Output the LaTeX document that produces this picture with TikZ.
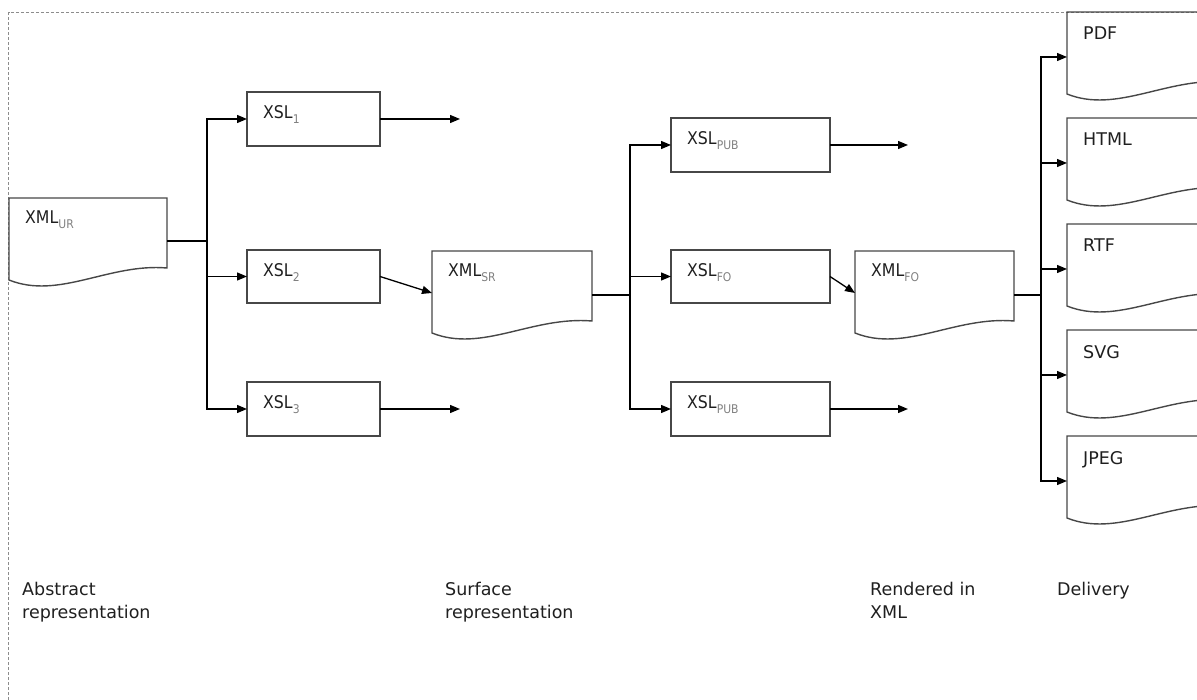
\documentclass[tikz,border=0pt]{standalone}
\usepackage{fontspec}
\setmainfont{DejaVu Sans}
\newfontfamily\narrowfont[FakeStretch=0.9]{DejaVu Sans}
\usetikzlibrary{arrows.meta,calc}
\newcommand\subtx[1]{\raisebox{-5pt}{\fontsize{12}{12}\selectfont\color{black!50}#1}}
\newcommand\docpath[1]{\draw[docline] (#1.south west) -- (#1.north west) -- (#1.north east) -- ($(#1.south east)+(0,-12)$) .. controls ($(#1.south west)+(100,-17)$) and ($(#1.south west)+(50,20)$) .. (#1.south west) -- cycle;}
\begin{document}
\begin{tikzpicture}[x=1pt,y=-1pt,
  every node/.style={text=black!88},
  docnode/.style={minimum width=159, minimum height=82, anchor=north west, inner sep=0, outer sep=0},
  docline/.style={draw=black!72, line width=1.4},
  doctext/.style={anchor=north west, inner sep=0, xshift=16, yshift=-13, font=\narrowfont\fontsize{17.5}{20}\selectfont},
  deltext/.style={anchor=north west, inner sep=0, xshift=16, yshift=-15, font=\fontsize{17.5}{20}\selectfont},
  xslbox/.style={draw=black!72, line width=1.5, anchor=north west, inner sep=0, outer sep=0, minimum height=54},
  conn/.style={draw=black, line width=1.3},
  arr/.style={conn, -{Triangle[length=10pt,width=8pt]}},
  caption/.style={anchor=north west, align=left, inner sep=0, font=\fontsize{17.5}{23}\selectfont}
]
\useasboundingbox (0,0) rectangle (1197,700);
\clip (0,0) rectangle (1197,700);
% frame
\draw[black!45, line width=1, dash pattern=on 3pt off 2pt] (8.5,700) -- (8.5,12.5) -- (1197,12.5);

% abstract stage
\node[docnode, minimum width=158, label={[doctext]north west:XML\subtx{UR}}] (ur) at (9,198) {};
\docpath{ur}
\node[xslbox, minimum width=133] (x1) at (247,92) {};
\node[doctext] at (x1.north west) {XSL\subtx{1}};
\node[xslbox, minimum width=133, minimum height=53] (x2) at (247,250) {};
\node[doctext] at (x2.north west) {XSL\subtx{2}};
\node[xslbox, minimum width=133] (x3) at (247,382) {};
\node[doctext] at (x3.north west) {XSL\subtx{3}};

\draw[arr] ($(ur.north east)+(0,43)$) -- ++(40,0) |- (x1.west);
\draw[arr] ($(ur.north east)+(0,43)$) -- ++(40,0) |- (x2.west);
\draw[arr] ($(ur.north east)+(0,43)$) -- ++(40,0) |- (x3.west);
\coordinate (o1) at (460,119);
\coordinate (o3) at (460,409);
\draw[arr] (x1.east) -- (o1);
\draw[arr] (x3.east) -- (o3);

% surface stage
\node[docnode, minimum width=160, label={[doctext]north west:XML\subtx{SR}}] (sr) at (432,251) {};
\docpath{sr}
\draw[arr] (x2.east) -- ($(sr.north west)+(0,42)$);

\node[xslbox, minimum width=159] (p1) at (671,118) {};
\node[doctext] at (p1.north west) {XSL\subtx{PUB}};
\node[xslbox, minimum width=159, minimum height=53] (fo) at (671,250) {};
\node[doctext] at (fo.north west) {XSL\subtx{FO}};
\node[xslbox, minimum width=159] (p2) at (671,382) {};
\node[doctext] at (p2.north west) {XSL\subtx{PUB}};

\draw[arr] ($(sr.north east)+(0,44)$) -- ++(38,0) |- (p1.west);
\draw[arr] ($(sr.north east)+(0,44)$) -- ++(38,0) |- (fo.west);
\draw[arr] ($(sr.north east)+(0,44)$) -- ++(38,0) |- (p2.west);
\coordinate (o4) at (908,145);
\coordinate (o5) at (908,409);
\draw[arr] (p1.east) -- (o4);
\draw[arr] (p2.east) -- (o5);

% rendered stage
\node[docnode, label={[doctext]north west:XML\subtx{FO}}] (xfo) at (855,251) {};
\docpath{xfo}
\draw[arr] (fo.east) -- ($(xfo.north west)+(0,42)$);

% delivery
\node[docnode, label={[deltext]north west:PDF}] (pdf) at (1067,12) {};
\node[docnode, label={[deltext]north west:HTML}] (html) at (1067,118) {};
\node[docnode, label={[deltext]north west:RTF}] (rtf) at (1067,224) {};
\node[docnode, label={[deltext]north west:SVG}] (svg) at (1067,330) {};
\node[docnode, label={[deltext]north west:JPEG}] (jpeg) at (1067,436) {};
\docpath{pdf}
\docpath{html}
\docpath{rtf}
\docpath{svg}
\docpath{jpeg}
\foreach \d in {pdf,html,rtf,svg,jpeg}{
  \draw[arr] ($(xfo.north east)+(0,44)$) -- ++(27,0) |- ($(\d.north west)+(0,45)$);
}

% captions
\node[caption] (c1) at (22,582) {Abstract\\representation};
\node[caption] (c2) at (445,582) {Surface\\representation};
\node[caption] (c3) at (870,582) {Rendered in\\XML};
\node[caption] (c4) at (1057,582) {Delivery};
\end{tikzpicture}
\end{document}
